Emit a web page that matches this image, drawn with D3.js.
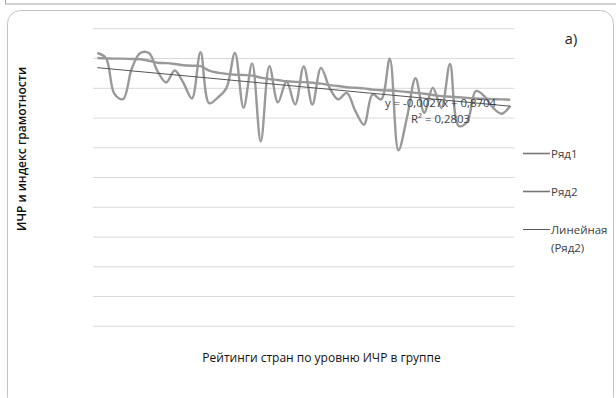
<!DOCTYPE html>
<html>
<head>
<meta charset="utf-8">
<script src="https://cdn.jsdelivr.net/npm/d3@7"></script>
<style>
    body { margin: 0; background: #fff; }
    svg { display: block; font-family: 'Open Sans', sans-serif; }
</style>
</head>
<body>
<div id="chart"></div>
<script>
// ranks of countries in the group
const ranks = d3.range(1, 50);

// Ряд1 - smooth, slowly falling
const series1 = [0.900, 0.899, 0.898, 0.898, 0.897, 0.896, 0.891, 0.884, 0.883, 0.880,
    0.876, 0.874, 0.873, 0.858, 0.851, 0.847, 0.844, 0.843, 0.841, 0.834,
    0.829, 0.826, 0.822, 0.820, 0.819, 0.817, 0.814, 0.809, 0.806, 0.802,
    0.800, 0.798, 0.794, 0.792, 0.791, 0.789, 0.786, 0.783, 0.780, 0.776,
    0.772, 0.770, 0.768, 0.766, 0.764, 0.763, 0.762, 0.761, 0.760];

// Ряд2 - jumpy one, the trend is fitted to it
const series2 = [0.917, 0.900, 0.779, 0.762, 0.864, 0.917, 0.917, 0.856, 0.818, 0.858,
    0.817, 0.764, 0.920, 0.748, 0.767, 0.798, 0.917, 0.733, 0.882, 0.620,
    0.873, 0.751, 0.821, 0.744, 0.872, 0.744, 0.867, 0.800, 0.761, 0.783,
    0.722, 0.676, 0.778, 0.761, 0.898, 0.590, 0.700, 0.832, 0.716, 0.800,
    0.733, 0.880, 0.672, 0.686, 0.789, 0.772, 0.733, 0.713, 0.739];

const yTicks = d3.range(0, 1.01, 0.1);
const trendSlope = -0.0027;
const trendIntercept = 0.8704;
const trendLabel = ['y = -0,0027x + 0,8704', 'R² = 0,2803'];
const legendItems = ['Ряд1', 'Ряд2', 'Линейная'];

const width = 616;
const height = 398;
const plot = { left: 93, right: 514.5, top: 28.3, bottom: 325.8 };

const svg = d3.select('#chart').append('svg')
    .attr('width', width)
    .attr('height', height);

// frame bits of the page
svg.append('rect')
    .attr('x', 5.5).attr('y', -20).attr('width', 620).attr('height', 24)
    .attr('fill', 'none').attr('stroke', '#a6a6a6');
svg.append('rect')
    .attr('x', 7.5).attr('y', 10.5).attr('width', 606).attr('height', 400)
    .attr('rx', 13).attr('ry', 13)
    .attr('fill', '#fff').attr('stroke', '#c4c4c4');

const x = d3.scalePoint()
    .domain(ranks)
    .range([plot.left, plot.right])
    .padding(0.5);

const y = d3.scaleLinear()
    .domain([0, 1])
    .range([plot.bottom, plot.top]);

// horizontal gridlines
const yAxis = d3.axisLeft(y)
    .tickValues(yTicks)
    .tickSize(-(plot.right - plot.left))
    .tickFormat('');
const yAxisGroup = svg.append('g')
    .attr('transform', `translate(${plot.left}, 0)`)
    .call(yAxis);
yAxisGroup.select('.domain').remove();
yAxisGroup.selectAll('.tick line')
    .attr('stroke', '#d9d9d9')
    .attr('stroke-width', 1);

const line = d3.line()
    .x((d, i) => x(ranks[i]))
    .y(d => y(d))
    .curve(d3.curveCatmullRom);

svg.append('path')
    .datum(series1)
    .attr('d', line)
    .attr('fill', 'none')
    .attr('stroke', '#999')
    .attr('stroke-width', 2.4);

svg.append('path')
    .datum(series2)
    .attr('d', line)
    .attr('fill', 'none')
    .attr('stroke', '#999')
    .attr('stroke-width', 2.4);

// linear trend of Ряд2
const trendEnds = [ranks[0], ranks[ranks.length - 1]];
svg.append('line')
    .attr('x1', x(trendEnds[0]))
    .attr('y1', y(trendSlope * trendEnds[0] + trendIntercept))
    .attr('x2', x(trendEnds[1]))
    .attr('y2', y(trendSlope * trendEnds[1] + trendIntercept))
    .attr('stroke', '#555')
    .attr('stroke-width', 1);

svg.selectAll('.trend-label')
    .data(trendLabel)
    .enter().append('text')
    .attr('x', 440.5)
    .attr('y', (d, i) => 107 + i * 15.5)
    .attr('text-anchor', 'middle')
    .attr('font-size', 11.4)
    .attr('fill', '#404040')
    .text(d => d);

// titles
svg.append('text')
    .attr('x', 571).attr('y', 43.5)
    .attr('text-anchor', 'middle')
    .attr('font-size', 14.5)
    .attr('fill', '#222')
    .text('а)');

svg.append('text')
    .attr('x', 321.5).attr('y', 362)
    .attr('text-anchor', 'middle')
    .attr('font-size', 12)
    .attr('fill', '#111')
    .text('Рейтинги стран по уровню ИЧР в группе');

svg.append('text')
    .attr('transform', 'translate(26, 149) rotate(-90)')
    .attr('text-anchor', 'middle')
    .attr('font-size', 12)
    .attr('font-weight', 600)
    .attr('fill', '#111')
    .text('ИЧР и индекс грамотности');

// legend
const legendY = [153.5, 191.5, 229.5];
const legend = svg.selectAll('.legend')
    .data(legendItems)
    .enter().append('g')
    .attr('transform', (d, i) => `translate(523, ${legendY[i]})`);
legend.append('line')
    .attr('x1', 0).attr('x2', 27)
    .attr('stroke', (d, i) => i < 2 ? '#777' : '#595959')
    .attr('stroke-width', (d, i) => i < 2 ? 1.6 : 1);
legend.append('text')
    .attr('x', 28).attr('y', 4)
    .attr('font-size', 11.5)
    .attr('fill', '#404040')
    .text(d => d);
legend.filter((d, i) => i === 2).append('text')
    .attr('x', 28).attr('y', 22.5)
    .attr('font-size', 11.5)
    .attr('fill', '#404040')
    .text('(Ряд2)');
</script>
</body>
</html>
